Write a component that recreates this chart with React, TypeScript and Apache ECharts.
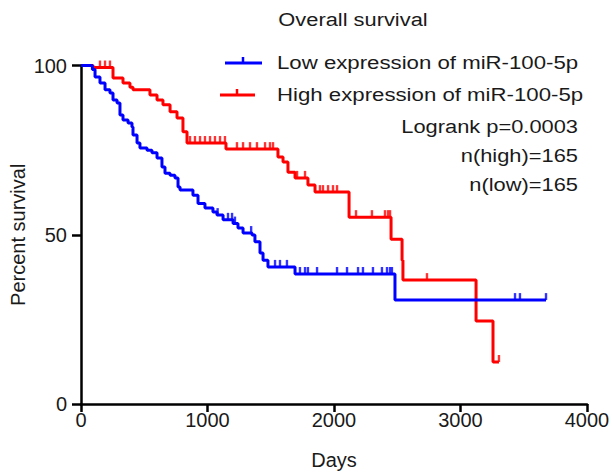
import React, { useEffect, useRef } from "react";
import * as echarts from "echarts";

// Kaplan–Meier steps: day of each drop and the survival (%) right after it
const lowEventDays = [90, 111, 150, 190, 229, 253, 285, 308, 332, 372, 403, 411, 443, 466, 522, 561, 601, 640, 664, 704, 743, 767, 783, 885, 925, 980, 1043, 1075, 1123, 1202, 1241, 1281, 1352, 1375, 1415, 1439, 1478, 1692, 2482];
const lowEventSurvival = [98.8, 96.6, 94.8, 92.8, 91.9, 89.8, 88.9, 85.4, 83.9, 83.0, 81.8, 79.5, 77.1, 75.6, 75.0, 74.2, 72.7, 70.0, 68.2, 67.6, 66.8, 64.1, 63.2, 61.7, 59.2, 57.9, 56.7, 55.8, 54.4, 53.3, 52.0, 50.5, 49.9, 47.9, 44.6, 42.5, 40.5, 38.4, 30.7];
const lowCensorDays = [1080, 1162, 1194, 1217, 1345, 1534, 1573, 1628, 1731, 1771, 1794, 1866, 2024, 2103, 2190, 2229, 2308, 2379, 2419, 2443, 2458, 3431, 3470, 3676];
const lowLastDay = 3676;

const highEventDays = [95, 253, 332, 387, 411, 545, 601, 648, 704, 759, 806, 838, 1146, 1557, 1597, 1636, 1692, 1794, 1850, 2119, 2451, 2538, 2545, 3123, 3257];
const highEventSurvival = [99.4, 96.3, 94.8, 93.6, 92.8, 91.3, 89.8, 88.4, 86.3, 84.5, 80.4, 77.1, 75.3, 73.0, 71.5, 68.5, 66.8, 64.7, 62.6, 55.2, 48.7, 42.5, 36.6, 24.5, 12.4];
const highCensorDays = [150, 190, 229, 862, 901, 941, 980, 1020, 1059, 1099, 1138, 1233, 1281, 1336, 1391, 1455, 1494, 1518, 1708, 1771, 1889, 1913, 1953, 1992, 2024, 2174, 2300, 2403, 2427, 2443, 2735, 3304];
const highLastDay = 3304;

const xTicks = [0, 1000, 2000, 3000, 4000];
const yTicks = [0, 50, 100];

const seriesNames = ["Low expression of miR-100-5p", "High expression of miR-100-5p"];
const titleText = "Overall survival";
const statsLines = ["Logrank p=0.0003", "n(high)=165", "n(low)=165"];

const BLUE = "#0000ff";
const RED = "#ff0000";
const INK = "#1a1a1a";
const FONT = '"Liberation Sans", Arial, Helvetica, sans-serif';

function stepData(days: number[], surv: number[], last: number): number[][] {
  const pts: number[][] = [[0, 100]];
  days.forEach((d, i) => pts.push([d, surv[i]]));
  pts.push([last, surv[surv.length - 1]]);
  return pts;
}

function survivalAt(days: number[], surv: number[], t: number): number {
  let s = 100;
  for (let i = 0; i < days.length; i++) {
    if (days[i] <= t) s = surv[i];
  }
  return s;
}

function censorData(days: number[], surv: number[], censors: number[]): number[][] {
  return censors.map((c) => [c, survivalAt(days, surv, c)]);
}

export default function App() {
  const ref = useRef<HTMLDivElement>(null);

  useEffect(() => {
    if (!ref.current) return;
    const chart = echarts.init(ref.current, undefined, { renderer: "svg" });

    const textEl = (
      text: string,
      x: number,
      y: number,
      align: "left" | "right" | "center",
      size: number,
      sx = 1
    ) => ({
      type: "text",
      x,
      y,
      scaleX: sx,
      style: {
        text,
        fill: INK,
        font: `${size}px ${FONT}`,
        textAlign: align,
        textVerticalAlign: "middle",
      },
    });

    const legendLine = (x1: number, x2: number, y: number, tickX: number, color: string) => [
      { type: "line", shape: { x1, y1: y, x2, y2: y }, style: { stroke: color, lineWidth: 3 } },
      { type: "line", shape: { x1: tickX, y1: y, x2: tickX, y2: y - 6 }, style: { stroke: color, lineWidth: 2.5 } },
    ];

    const censorSymbol = {
      type: "scatter",
      symbol: "rect",
      symbolSize: [2.4, 7],
      symbolOffset: [0, "-50%"],
      silent: true,
      z: 3,
    };

    chart.setOption({
      animation: false,
      grid: { left: 81, right: 26, top: 65.5, bottom: 69, containLabel: false, outerBoundsMode: "none" },
      xAxis: {
        type: "value",
        min: xTicks[0],
        max: xTicks[xTicks.length - 1],
        interval: xTicks[1] - xTicks[0],
        name: "Days",
        nameLocation: "middle",
        nameGap: 46,
        nameMoveOverlap: false,
        nameTextStyle: { fontSize: 20, color: INK, fontFamily: FONT },
        axisLine: { lineStyle: { color: "#000", width: 2.5 } },
        axisTick: { length: 8, lineStyle: { color: "#000", width: 2.5 } },
        axisLabel: { fontSize: 20, color: INK, fontFamily: FONT, margin: 6, formatter: (v: number) => String(v) },
        splitLine: { show: false },
      },
      yAxis: {
        type: "value",
        min: yTicks[0],
        max: yTicks[yTicks.length - 1],
        interval: yTicks[1] - yTicks[0],
        name: "Percent survival",
        nameLocation: "middle",
        nameGap: 53,
        nameMoveOverlap: false,
        nameTextStyle: { fontSize: 20, color: INK, fontFamily: FONT },
        axisLine: { lineStyle: { color: "#000", width: 2.5 } },
        axisTick: { length: 9, lineStyle: { color: "#000", width: 2.5 } },
        axisLabel: { fontSize: 20, color: INK, fontFamily: FONT, margin: 14, formatter: (v: number) => String(v) },
        splitLine: { show: false },
      },
      series: [
        {
          name: seriesNames[1],
          type: "line",
          step: "end",
          data: stepData(highEventDays, highEventSurvival, highLastDay),
          showSymbol: false,
          lineStyle: { color: RED, width: 3 },
          z: 2,
        },
        {
          ...censorSymbol,
          data: censorData(highEventDays, highEventSurvival, highCensorDays),
          itemStyle: { color: RED },
        },
        {
          name: seriesNames[0],
          type: "line",
          step: "end",
          data: stepData(lowEventDays, lowEventSurvival, lowLastDay),
          showSymbol: false,
          lineStyle: { color: BLUE, width: 3 },
          z: 4,
        },
        {
          ...censorSymbol,
          data: censorData(lowEventDays, lowEventSurvival, lowCensorDays),
          itemStyle: { color: BLUE },
          z: 5,
        },
      ],
      graphic: [
        textEl(titleText, 353, 19, "center", 19, 1.15),
        ...legendLine(225, 262, 63, 243, BLUE),
        textEl(seriesNames[0], 277, 62, "left", 19, 1.17),
        ...legendLine(220, 255, 95, 237, RED),
        textEl(seriesNames[1], 277, 94, "left", 19, 1.17),
        textEl(statsLines[0], 578, 126, "right", 19, 1.15),
        textEl(statsLines[1], 578, 155, "right", 19, 1.15),
        textEl(statsLines[2], 578, 184, "right", 19, 1.15),
      ],
    });

    return () => chart.dispose();
  }, []);

  return (
    <div
      ref={ref}
      style={{ position: "fixed", left: 0, top: 0, width: 613, height: 473, background: "#fff" }}
    />
  );
}
